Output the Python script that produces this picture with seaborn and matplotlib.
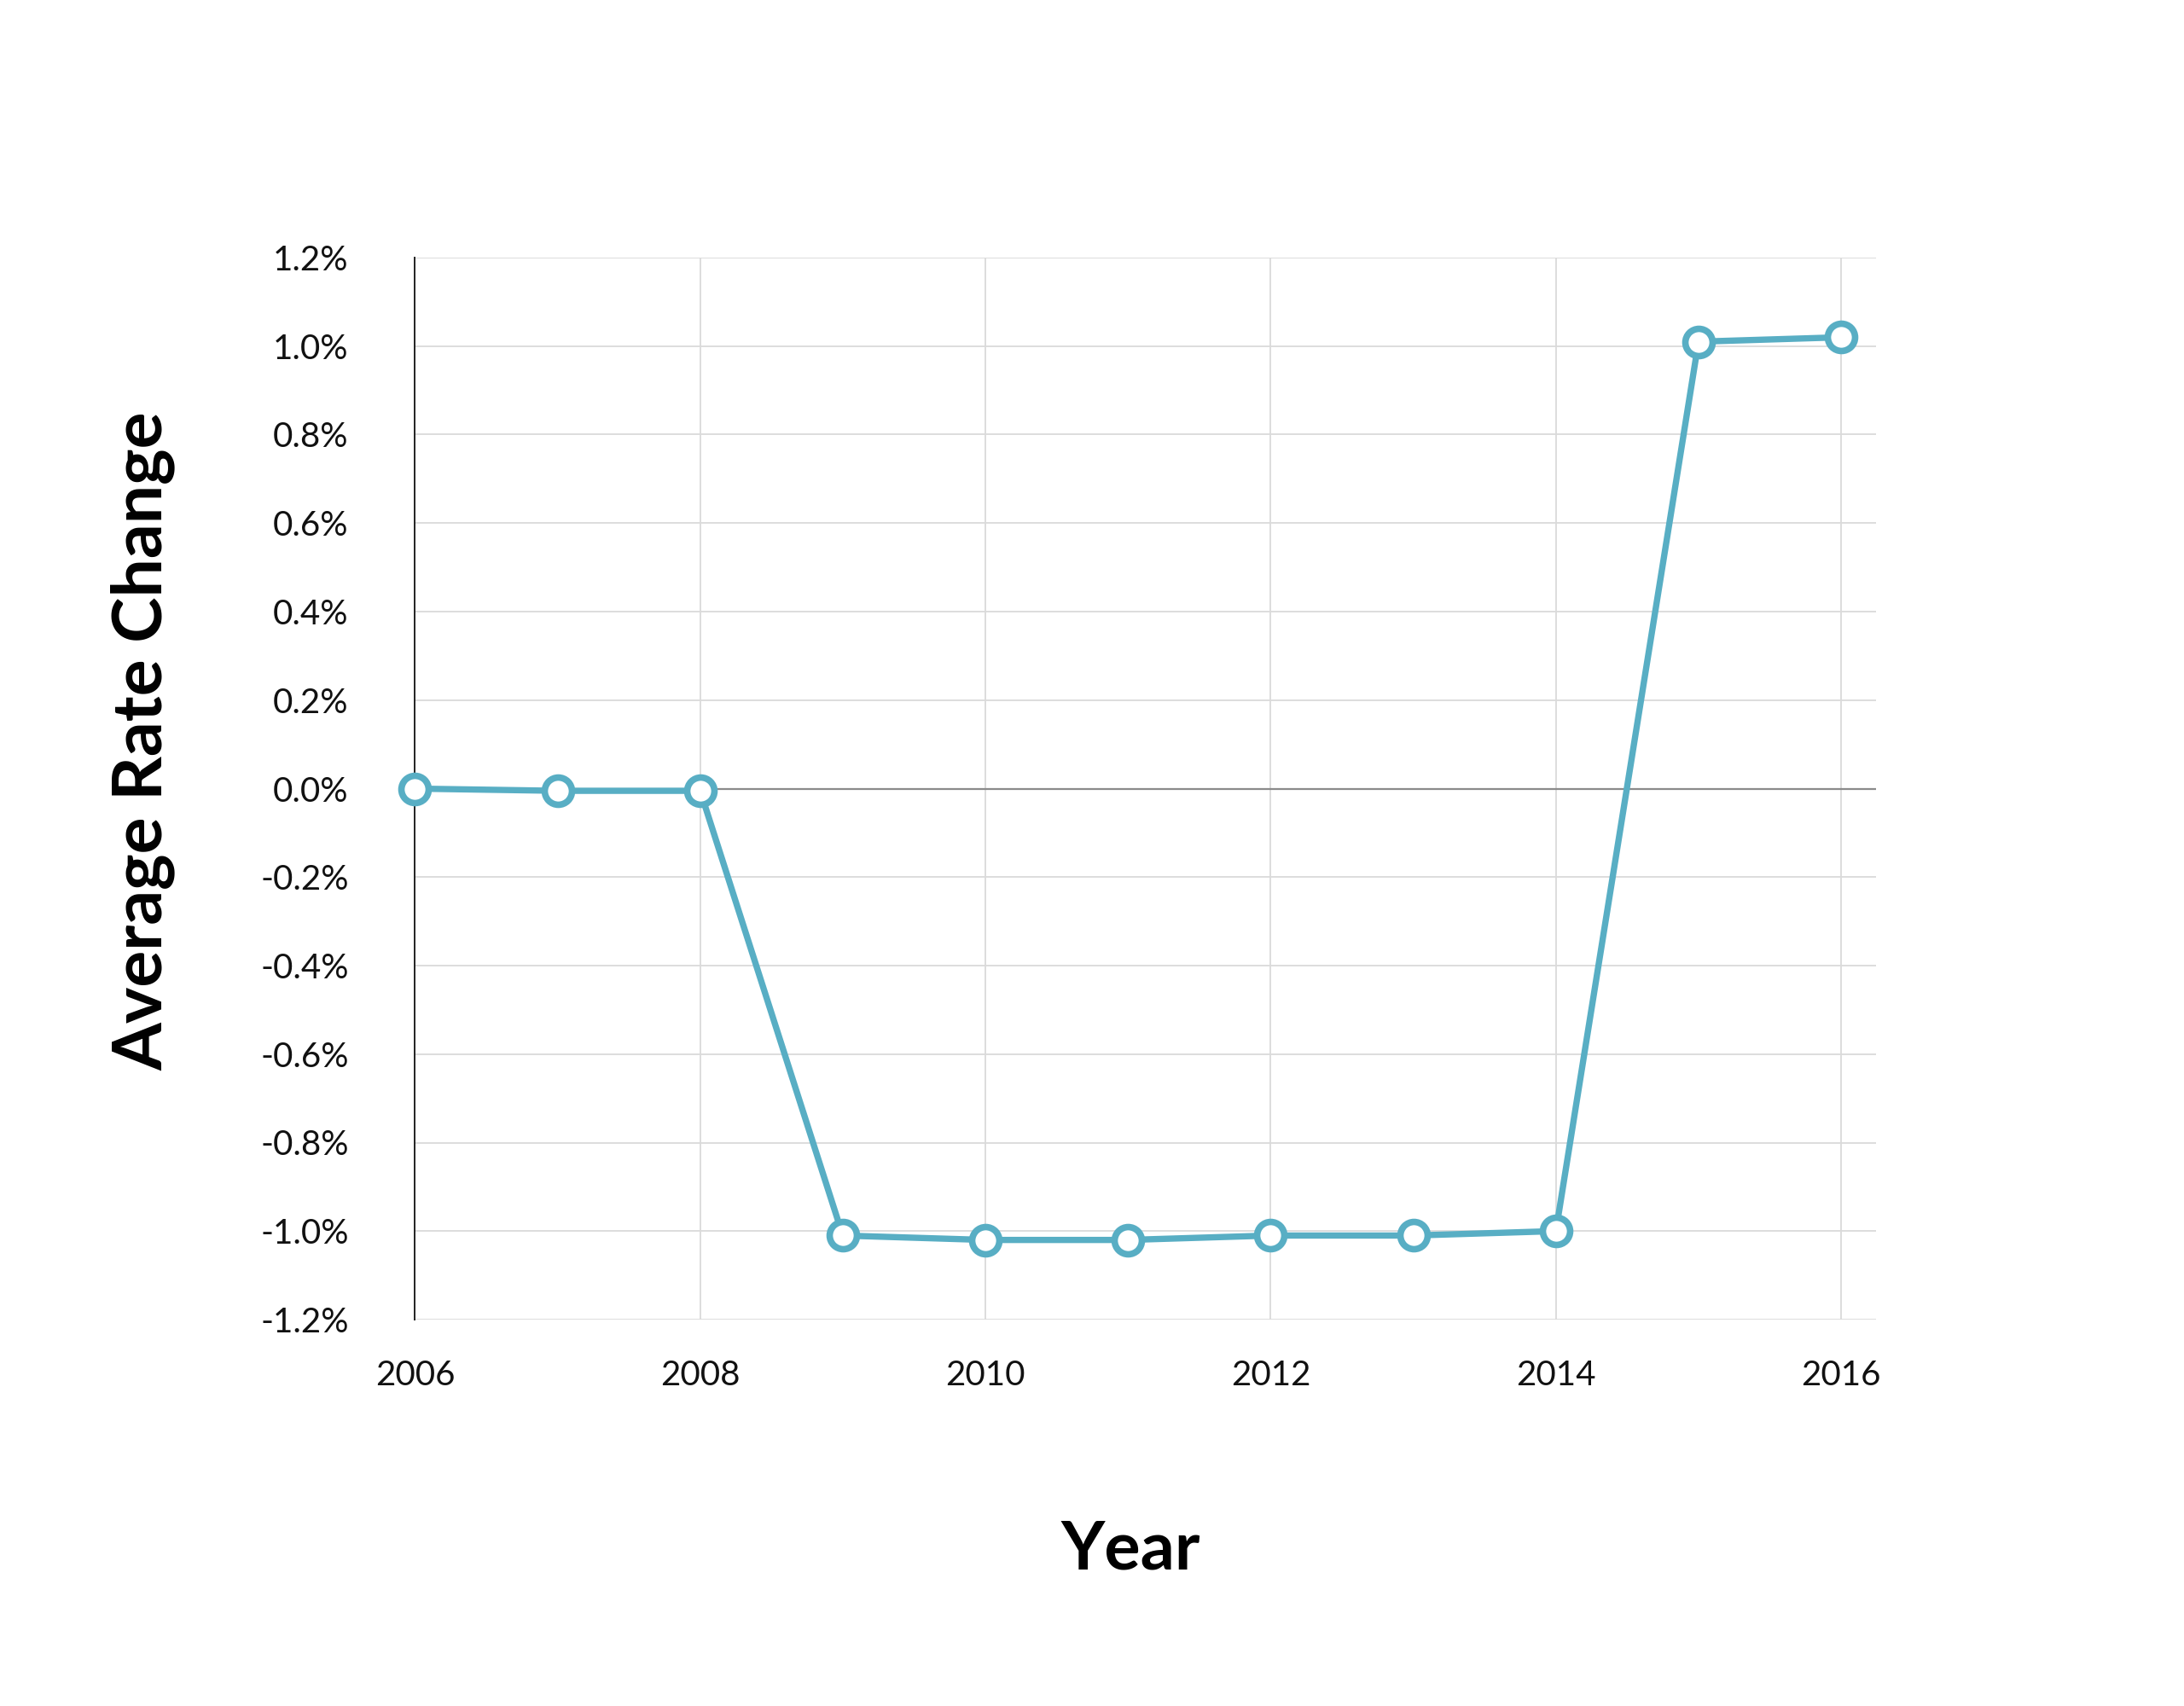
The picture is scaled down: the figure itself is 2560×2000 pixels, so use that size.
import matplotlib
matplotlib.use("Agg")
import matplotlib.pyplot as plt
from matplotlib.ticker import FuncFormatter, MultipleLocator
import seaborn as sns
import pandas as pd

years = [2006, 2007, 2008, 2009, 2010, 2011, 2012, 2013, 2014, 2015, 2016]
rate_change = [0.0, -0.005, -0.005, -1.01, -1.02, -1.02, -1.01, -1.01, -1.0, 1.01, 1.02]
x_ticks = [2006, 2008, 2010, 2012, 2014, 2016]
x_label = "Year"
y_label = "Average Rate Change"

df = pd.DataFrame({"Year": years, "Rate": rate_change})

sns.set_theme(style="white")
plt.rcParams["font.family"] = ["Lato", "DejaVu Sans"]

fig = plt.figure(figsize=(25.6, 20), dpi=100)
ax = fig.add_axes([0.190, 0.2265, 0.669, 0.6225])

line_color = "#58aec4"

ax.set_xlim(2006, 2016.245)
ax.set_ylim(-1.2, 1.2)

ax.yaxis.set_major_locator(MultipleLocator(0.2))
ax.set_xticks(x_ticks)
ax.set_xticklabels([str(t) for t in x_ticks])

def pct(v, pos):
    if abs(v) < 1e-9:
        v = 0.0
    return f"{v:.1f}%"
ax.yaxis.set_major_formatter(FuncFormatter(pct))

ax.grid(True, axis="both", color="#dadada", linewidth=1.3)
ax.set_axisbelow(True)
ax.axhline(0, color="#8a8a8a", linewidth=1.6, zorder=1.5)

sns.lineplot(data=df, x="Year", y="Rate", ax=ax, color=line_color,
             linewidth=5.3, marker="o", markersize=23,
             markerfacecolor="white", markeredgecolor=line_color,
             markeredgewidth=5.5, clip_on=False, zorder=3)

for s in ["top", "right", "bottom"]:
    ax.spines[s].set_visible(False)
ax.spines["left"].set_color("#222222")
ax.spines["left"].set_linewidth(1.4)

ax.tick_params(axis="both", length=0, labelsize=29, colors="#111111")
ax.tick_params(axis="y", pad=56)
ax.tick_params(axis="x", pad=34)

ax.set_xlabel(x_label, fontsize=57, fontweight="bold", color="#000000")
ax.set_ylabel(y_label, fontsize=58, fontweight="bold", color="#000000")
ax.xaxis.set_label_coords(0.49, -0.217)
ax.yaxis.set_label_coords(-0.186, 0.545)
ax.xaxis.label.set_va("center")
ax.yaxis.label.set_va("center")

fig.savefig("out.png", dpi=100, facecolor="white")
